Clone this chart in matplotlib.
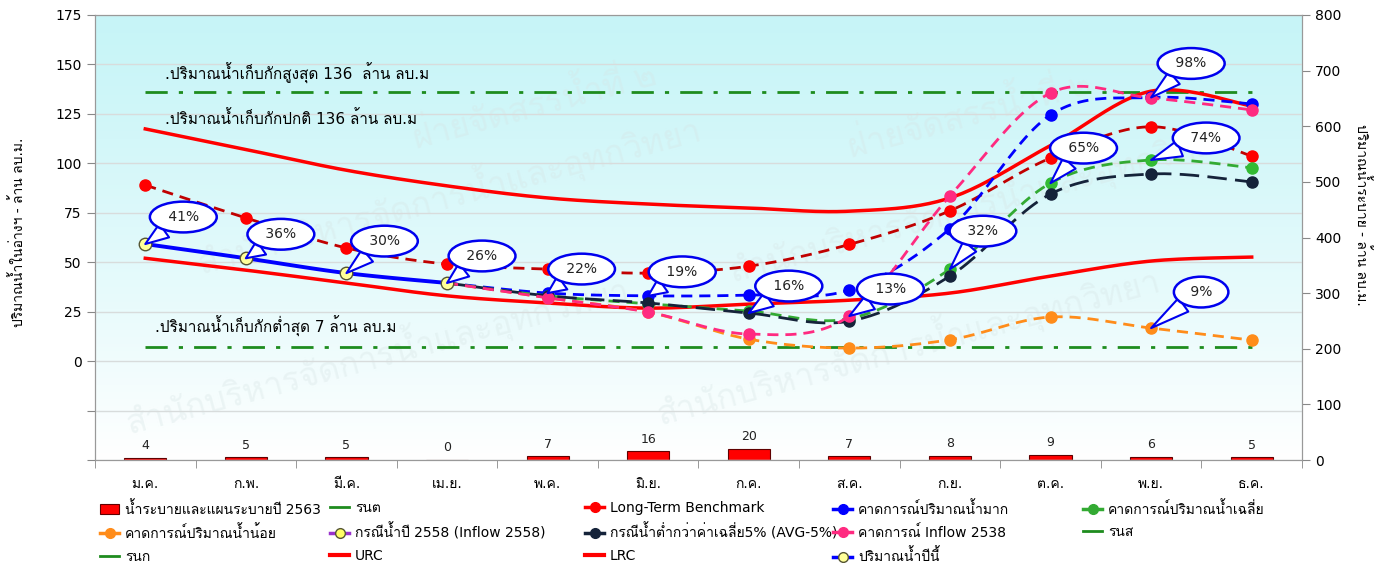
import numpy as np
import matplotlib
matplotlib.use('Agg')
import matplotlib.pyplot as plt
from matplotlib import font_manager as fm
from matplotlib.ft2font import FT2Font
from matplotlib.lines import Line2D
from matplotlib.patches import Patch

# หาฟอนต์ที่มีอักษรไทย
thai_font = None
for f in fm.fontManager.ttflist:
    try:
        if 0x0E01 in FT2Font(f.fname).get_charmap():
            thai_font = f.name
            break
    except Exception:
        pass
fams = ['DejaVu Sans'] + ([thai_font] if thai_font else [])
plt.rcParams['font.family'] = fams

# ข้อมูล
months = ['ม.ค.', 'ก.พ.', 'มี.ค.', 'เม.ย.', 'พ.ค.', 'มิ.ย.', 'ก.ค.', 'ส.ค.', 'ก.ย.', 'ต.ค.', 'พ.ย.', 'ธ.ค.']
release = [4, 5, 5, 0, 7, 16, 20, 7, 8, 9, 6, 5]
urc = [117.4, 107, 96.5, 88.6, 82.5, 79.4, 77.4, 75.8, 82.5, 109, 136.5, 129]
lrc = [52, 46, 39.5, 33, 29.4, 26.8, 28.8, 30.8, 34.4, 43, 50.6, 52.6]
benchmark = [89, 72.4, 57.2, 49, 46.5, 44.5, 48, 59, 76, 102.7, 118.5, 103.7]
this_year = [59.2, 52, 44.5, 39.5]
high = [39.5, 34.4, 33, 33.4, 36, 67, 124.5, 133.3, 130]
avg = [39.5, 33, 29, 25.3, 21.5, 46.5, 90, 101.7, 97.7]
avg5 = [39.5, 33, 29.4, 24.3, 20.2, 43, 84.5, 94.6, 90.6]
inflow2538 = [39.5, 32, 24.8, 13.7, 22.8, 83.5, 135.6, 133, 127]
low = [39.5, 32, 24.8, 11.1, 6.6, 10.8, 22.3, 16.7, 10.6]
max_storage = 136
normal_storage = 136
min_storage = 7
pct_labels = ['41%', '36%', '30%', '26%', '22%', '19%', '16%', '13%', '32%', '65%', '74%', '98%', '9%']


def smooth(x, y, n=25):
    # เส้นโค้งแบบ Excel (Bezier ผ่านทุกจุด)
    pts = np.column_stack([x, y]).astype(float)
    P = np.vstack([pts[0], pts, pts[-1]])
    out = []
    for i in range(1, len(P) - 2):
        p0, p1, p2, p3 = P[i - 1], P[i], P[i + 1], P[i + 2]
        c1 = p1 + (p2 - p0) / 6
        c2 = p2 - (p3 - p1) / 6
        t = np.linspace(0, 1, n)[:, None]
        out.append((1 - t) ** 3 * p1 + 3 * (1 - t) ** 2 * t * c1 + 3 * (1 - t) * t ** 2 * c2 + t ** 3 * p2)
    return np.vstack(out)


fig = plt.figure(figsize=(13.97, 5.63), dpi=100)
ax = fig.add_axes([95 / 1397, 1 - 460 / 563, 1207 / 1397, 445 / 563])
ax2 = ax.twinx()
ax.set_zorder(2)
ax.patch.set_visible(False)

x = np.arange(12)
xf = x[3:]

# พื้นหลังไล่สี
grad = np.linspace(0, 1, 256)[:, None]
top = np.array([0.78, 0.96, 0.97])
bot = np.array([1.0, 1.0, 1.0])
img = top * (1 - grad[..., None] ** 1.2) + bot * grad[..., None] ** 1.2
img = np.clip(img, 0, 1)
ax2.imshow(img, extent=[0, 1, 0, 1], transform=ax2.transAxes, aspect='auto', zorder=0)

# แท่งน้ำระบาย
bars = ax2.bar(x, release, width=0.42, color='#ff0000', edgecolor='#600000', linewidth=0.8, zorder=2)
for xi, v in zip(x, release):
    ax2.text(xi, v + 10, str(v), ha='center', va='bottom', fontsize=9, color='#222222', zorder=3)
ax2.set_ylim(0, 800)
ax2.set_yticks(range(0, 801, 100))

# ลายน้ำ
wm = ['สำนักบริหารจัดการน้ำและอุทกวิทยา', 'ฝ่ายจัดสรรน้ำที่ ๒']
for (wx, wy, s, fs) in [(0.02, 0.06, wm[0], 24), (0.46, 0.08, wm[0], 24), (0.08, 0.42, wm[0], 24),
                        (0.52, 0.40, wm[0], 24), (0.26, 0.70, wm[1], 24), (0.62, 0.68, wm[1], 24)]:
    ax2.text(wx, wy, s, transform=ax2.transAxes, fontsize=fs, color='#d6e4e4', alpha=0.35,
             rotation=15, zorder=1, clip_on=True)

# เส้นระดับน้ำเก็บกัก
ax.plot([0, 11], [max_storage, max_storage], color='#1e8c1e', lw=2, ls=(0, (8, 4, 1.5, 4)), zorder=3)
ax.plot([0, 11], [min_storage, min_storage], color='#1e8c1e', lw=2, ls=(0, (8, 4, 1.5, 4)), zorder=3)

s = smooth(x, urc)
ax.plot(s[:, 0], s[:, 1], color='#ff0000', lw=2.5, zorder=4)
s = smooth(x, lrc)
ax.plot(s[:, 0], s[:, 1], color='#ff0000', lw=2.5, zorder=4)

s = smooth(x, benchmark)
ax.plot(s[:, 0], s[:, 1], color='#c00000', lw=2, ls=(0, (4, 2.5)), zorder=5)
ax.plot(x, benchmark, 'o', color='#ff0000', ms=8, zorder=5)

series = [
    (low, '#ff8c1a', (0, (4, 2.5)), '#ff8c1a'),
    (high, '#0000ff', (0, (4, 2.5)), '#0000ff'),
    (avg, '#33aa33', (0, (4, 2.5)), '#33bb33'),
    (avg5, '#15233a', (0, (7, 3)), '#15233a'),
    (inflow2538, '#ff2a80', (0, (4, 2.5)), '#ff2a80'),
]
for vals, col, ls, mc in series:
    s = smooth(xf, vals)
    ax.plot(s[:, 0], s[:, 1], color=col, lw=2, ls=ls, zorder=6)
    ax.plot(xf[1:], vals[1:], 'o', color=mc, ms=8, zorder=6)

s = smooth(x[:4], this_year)
ax.plot(s[:, 0], s[:, 1], color='#0000ff', lw=2.8, zorder=7)
ax.plot(x[:4], this_year, 'o', mfc='#ffff99', mec='#555533', ms=9, mew=1, zorder=8)

ax.set_xlim(-0.5, 11.5)
ax.set_ylim(-50, 175)
ax.set_yticks(range(-50, 176, 25))
ax.set_yticklabels(['', ''] + [str(v) for v in range(0, 176, 25)])
ax.grid(axis='y', color='#d8dcdc', lw=1)
ax.set_axisbelow(True)
ax.set_xticks(x)
ax.set_xticklabels(months, fontsize=10)
ax.set_xticks(np.arange(-0.5, 12, 1), minor=True)
ax.tick_params(axis='x', which='major', length=0, pad=12)
ax.tick_params(axis='x', which='minor', length=6, color='#888888')
ax.tick_params(axis='y', labelsize=10, length=6, color='#888888')
ax2.tick_params(axis='y', labelsize=10, length=6, color='#888888')
for sp in list(ax.spines.values()) + list(ax2.spines.values()):
    sp.set_color('#999999')

# ข้อความระดับเก็บกัก
ax.text(0.2, 145.5, '.ปริมาณน้ำเก็บกักสูงสุด 136  ล้าน ลบ.ม', fontsize=11, va='center', zorder=9)
ax.text(0.2, 122.5, '.ปริมาณน้ำเก็บกักปกติ 136 ล้าน ลบ.ม', fontsize=11, va='center', zorder=9)
ax.text(0.1, 17.5, '.ปริมาณน้ำเก็บกักต่ำสุด 7 ล้าน ลบ.ม', fontsize=11, va='center', zorder=9)

# ป้ายเปอร์เซ็นต์
targets = [(0, this_year[0]), (1, this_year[1]), (2, this_year[2]), (3, this_year[3]),
           (4, high[1]), (5, high[2]), (6, avg5[3]), (7, inflow2538[4]), (8, avg[5]),
           (9, avg[6]), (10, avg[7]), (10, high[7]), (10, low[7])]
offsets = [(38, 27), (35, 24), (38, 32), (35, 27), (34, 24), (34, 24), (40, 27), (41, 27),
           (33, 38), (33, 35), (55, 22), (40, 34), (50, 36)]
for lab, (tx, ty), off in zip(pct_labels, targets, offsets):
    ax.annotate(' ' + lab + ' ', xy=(tx, ty), xytext=off, textcoords='offset pixels',
                ha='center', va='center', fontsize=10, color='#222222', zorder=10,
                bbox=dict(boxstyle='ellipse,pad=0.28', fc='white', ec='#0000ee', lw=1.8),
                arrowprops=dict(arrowstyle='wedge,tail_width=1.2,shrink_factor=0.5',
                                fc='white', ec='#0000ee', lw=1.5, shrinkA=0, shrinkB=0))

# ชื่อแกน
fig.text(18 / 1397, 1 - 232 / 563, 'ปริมาณน้ำในอ่างฯ - ล้าน ลบ.ม.', rotation=90, ha='center', va='center', fontsize=10)
fig.text(1362 / 1397, 1 - 215 / 563, 'ปริมาณน้ำระบาย - ล้าน ลบ.ม.', rotation=270, ha='center', va='center', fontsize=10)

# คำอธิบาย
h_bar = Patch(fc='#ff0000', ec='#600000', lw=0.8)
def mk(c, mfc=None):
    return Line2D([], [], color=c, lw=2.5, marker='o', ms=7, mfc=mfc or c, mec=c if mfc is None else '#555533')
def ln(c, lw=2.5):
    return Line2D([], [], color=c, lw=lw)
cols = [
    ([h_bar, mk('#ff8c1a'), ln('#1e8c1e', 2)], ['น้ำระบายและแผนระบายปี 2563', 'คาดการณ์ปริมาณน้ำน้อย', 'รนก']),
    ([ln('#1e8c1e', 2), mk('#9933cc', '#ffff66'), ln('#ff0000', 3)], ['รนต', 'กรณีน้ำปี 2558 (Inflow 2558)', 'URC']),
    ([mk('#ff0000'), mk('#15233a'), ln('#ff0000', 3)], ['Long-Term Benchmark', 'กรณีน้ำต่ำกว่าค่าเฉลี่ย5% (AVG-5%)', 'LRC']),
    ([mk('#0000ff'), mk('#ff2a80'), mk('#0000ff', '#ffff99')], ['คาดการณ์ปริมาณน้ำมาก', 'คาดการณ์ Inflow 2538', 'ปริมาณน้ำปีนี้']),
    ([mk('#33aa33'), ln('#1e8c1e', 2)], ['คาดการณ์ปริมาณน้ำเฉลี่ย', 'รนส']),
]
for (hs, ls_), cx in zip(cols, [100, 330, 585, 833, 1083]):
    fig.legend(hs, ls_, loc='upper left', bbox_to_anchor=(cx / 1397, 1 - 501 / 563), frameon=False,
               fontsize=10, handlelength=1.4, handletextpad=0.4, labelspacing=0.6, borderpad=0,
               borderaxespad=0)

fig.savefig('out.png', dpi=100)
